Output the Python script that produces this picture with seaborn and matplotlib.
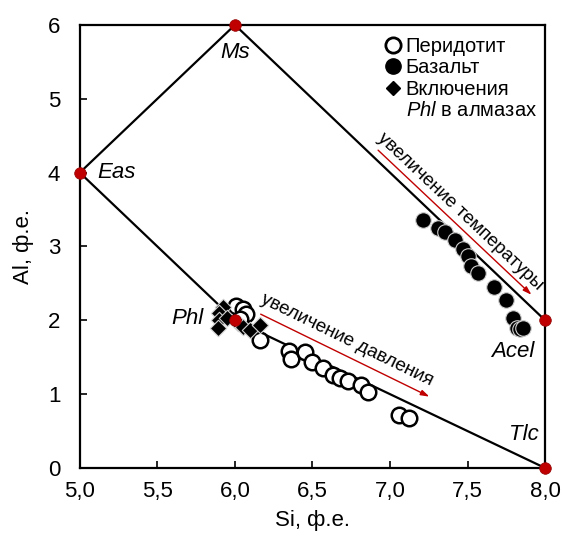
import numpy as np
import pandas as pd
import matplotlib
matplotlib.use("Agg")
import matplotlib.pyplot as plt
from matplotlib.lines import Line2D
import seaborn as sns

# Peridotite micas
perid_si = [6.01, 6.05, 6.07, 6.03, 6.16, 6.35, 6.36, 6.45, 6.50, 6.57, 6.63, 6.68, 6.73, 6.81, 6.86, 7.06, 7.12]
perid_al = [2.20, 2.15, 2.08, 2.02, 1.73, 1.59, 1.48, 1.57, 1.44, 1.36, 1.26, 1.22, 1.18, 1.12, 1.03, 0.72, 0.68]

# Basalt micas
bas_si = [7.21, 7.31, 7.355, 7.42, 7.47, 7.50, 7.52, 7.57, 7.67, 7.75, 7.79, 7.82, 7.84, 7.86]
bas_al = [3.36, 3.25, 3.20, 3.09, 2.96, 2.87, 2.73, 2.64, 2.45, 2.28, 2.03, 1.90, 1.88, 1.90]

# Phlogopite inclusions in diamonds
incl_si = [5.92, 5.90, 5.90, 5.89, 5.95, 6.02, 6.05, 6.10, 6.16]
incl_al = [2.18, 2.10, 2.01, 1.90, 2.03, 1.96, 1.91, 1.87, 1.94]

# End-member compositions
end_names = ["Eas", "Ms", "Phl", "Acel", "Tlc"]
end_si = [5.0, 6.0, 6.0, 8.0, 8.0]
end_al = [4.0, 6.0, 2.0, 2.0, 0.0]

# Boundary lines between end members
tie_lines = [("Eas", "Ms"), ("Ms", "Acel"), ("Eas", "Phl"), ("Phl", "Tlc")]

x_ticks = [5.0, 5.5, 6.0, 6.5, 7.0, 7.5, 8.0]
x_tick_labels = ["5,0", "5,5", "6,0", "6,5", "7,0", "7,5", "8,0"]
y_ticks = [0, 1, 2, 3, 4, 5, 6]

sns.set_style("ticks")
FONT = ["Liberation Sans Narrow", "Liberation Sans", "DejaVu Sans"]
plt.rcParams["font.family"] = FONT
plt.rcParams["text.color"] = "black"
plt.rcParams["axes.labelcolor"] = "black"
plt.rcParams["mathtext.fontset"] = "custom"
plt.rcParams["mathtext.it"] = "Liberation Sans:italic"
plt.rcParams["mathtext.rm"] = "Liberation Sans"

fig = plt.figure(figsize=(5.62, 5.42), dpi=100)
ax = fig.add_axes([0.142, 0.1365, 0.828, 0.8175])

end_df = pd.DataFrame({"Si": end_si, "Al": end_al, "name": end_names})
pos = {n: (s, a) for n, s, a in zip(end_names, end_si, end_al)}
for a, b in tie_lines:
    ax.plot([pos[a][0], pos[b][0]], [pos[a][1], pos[b][1]], color="black", lw=1.6, zorder=1)

perid_df = pd.DataFrame({"Si": perid_si, "Al": perid_al})
bas_df = pd.DataFrame({"Si": bas_si, "Al": bas_al})
incl_df = pd.DataFrame({"Si": incl_si, "Al": incl_al})

sns.scatterplot(data=perid_df, x="Si", y="Al", ax=ax, marker="o", s=125,
                facecolor="white", edgecolor="black", linewidth=1.8, zorder=3)
sns.scatterplot(data=bas_df, x="Si", y="Al", ax=ax, marker="o", s=125,
                color="black", edgecolor="#d0d0d0", linewidth=0.8, zorder=3)
sns.scatterplot(data=incl_df, x="Si", y="Al", ax=ax, marker="D", s=70,
                color="black", edgecolor="#d0d0d0", linewidth=0.8, zorder=4)
sns.scatterplot(data=end_df, x="Si", y="Al", ax=ax, marker="o", s=70,
                color="#c00000", edgecolor="#900000", linewidth=0.5, zorder=6, clip_on=False)

ax.set_xlim(5.0, 8.0)
ax.set_ylim(0, 6)
ax.set_xticks(x_ticks)
ax.set_xticklabels(x_tick_labels)
ax.set_yticks(y_ticks)
ax.tick_params(direction="in", length=5, width=1.2, labelsize=16, colors="black")
ax.tick_params(axis="x", pad=9)
ax.tick_params(axis="y", pad=14)
for sp in ax.spines.values():
    sp.set_linewidth(1.6)
    sp.set_color("black")
ax.set_xlabel("Si, ф.е.", fontsize=16, labelpad=6)
ax.set_ylabel("Al, ф.е.", fontsize=16, labelpad=10)

# End-member labels
lab_style = dict(fontsize=16, fontstyle="italic", color="black")
ax.text(6.0, 5.62, "Ms", ha="center", va="center", **lab_style)
ax.text(5.11, 4.0, "Eas", ha="left", va="center", **lab_style)
ax.text(5.80, 2.02, "Phl", ha="right", va="center", **lab_style)
ax.text(7.79, 1.58, "Acel", ha="center", va="center", **lab_style)
ax.text(7.86, 0.45, "Tlc", ha="center", va="center", **lab_style)

# Trend arrows
red = "#c00000"
fig.canvas.draw()

def screen_angle(p0, p1):
    a = ax.transData.transform(p0)
    b = ax.transData.transform(p1)
    return np.degrees(np.arctan2(b[1] - a[1], b[0] - a[0]))

t0, t1 = (6.91, 4.33), (7.925, 2.32)
ax.annotate("", xy=t1, xytext=t0,
            arrowprops=dict(arrowstyle="-|>,head_length=0.5,head_width=0.16", color=red, lw=1.0))
ax.text(7.455, 3.47, "увеличение температуры", rotation=screen_angle(t0, t1),
        rotation_mode="anchor", ha="center", va="center", fontsize=13.5)

p0, p1 = (6.15, 2.10), (7.27, 0.95)
ax.annotate("", xy=p1, xytext=p0,
            arrowprops=dict(arrowstyle="-|>,head_length=0.5,head_width=0.16", color=red, lw=1.0))
ax.text(6.72, 1.73, "увеличение давления", rotation=screen_angle(p0, p1),
        rotation_mode="anchor", ha="center", va="center", fontsize=13.5)

# Legend
handles = [
    Line2D([], [], ls="none", marker="o", ms=11, mfc="white", mec="black", mew=2.0),
    Line2D([], [], ls="none", marker="o", ms=11, mfc="black", mec="black"),
    Line2D([], [], ls="none", marker="D", ms=7.5, mfc="black", mec="black"),
    Line2D([], [], ls="none", marker=None),
]
labels = ["Перидотит", "Базальт", "Включения", "$Phl$ в алмазах"]
ax.legend(handles, labels, loc="upper left", bbox_to_anchor=(0.635, 1.0), frameon=False,
          fontsize=14.5, handlelength=0.6, handletextpad=0.3, labelspacing=0.12,
          borderaxespad=0.2)

fig.savefig("out.png", dpi=100)
